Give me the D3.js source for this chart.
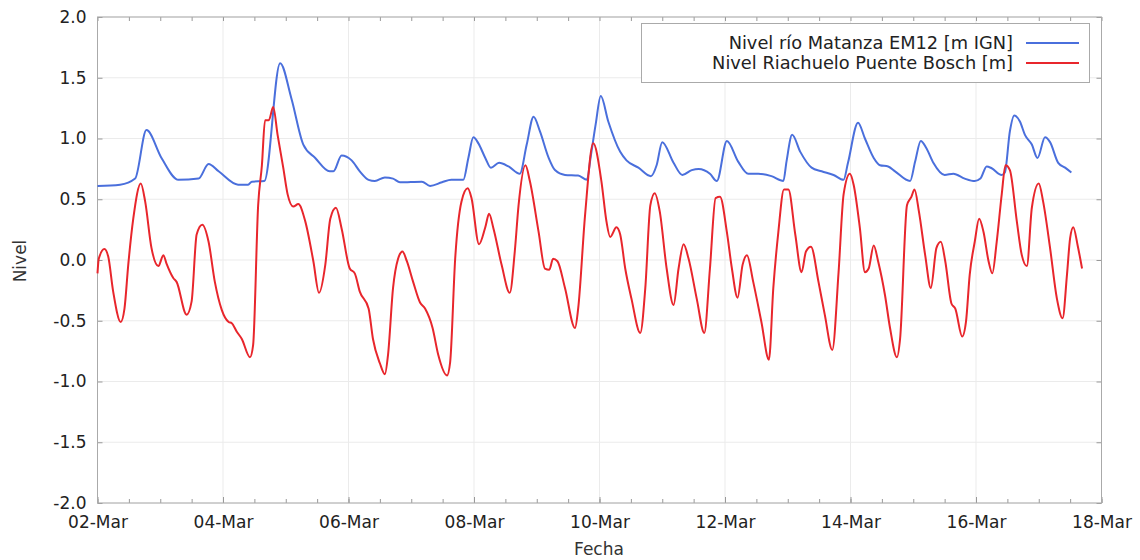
<!DOCTYPE html>
<html>
<head>
<meta charset="utf-8">
<script src="https://cdn.jsdelivr.net/npm/d3@7"></script>
<style>
  body { margin: 0; background: #fff; }
  svg { display: block; font-family: "DejaVu Sans", Verdana, sans-serif; }
</style>
</head>
<body>
<main></main>
<script>
// day offsets from 02-Mar 00:00 and levels
const matanzaDays = [0, 0.36, 0.6, 0.78, 1.02, 1.29, 1.61, 1.77, 1.93, 2.24, 2.4, 2.46, 2.66, 2.91, 3.09, 3.28, 3.47, 3.7, 3.76, 3.89,
  4.05, 4.18, 4.32, 4.42, 4.58, 4.71, 4.82, 5.17, 5.3, 5.49, 5.64, 5.83, 5.91, 5.99, 6.07, 6.18, 6.27, 6.4, 6.55, 6.73,
  6.84, 6.95, 7.05, 7.19, 7.29, 7.45, 7.66, 7.8, 7.86, 7.94, 8.02, 8.14, 8.33, 8.43, 8.62, 8.82, 8.91, 9.0, 9.18, 9.32,
  9.47, 9.58, 9.76, 9.87, 10.03, 10.21, 10.37, 10.53, 10.74, 10.93, 10.98, 11.07, 11.2, 11.38, 11.54, 11.73, 11.89, 11.96, 12.12, 12.23,
  12.37, 12.47, 12.6, 12.71, 12.95, 13.03, 13.12, 13.21, 13.32, 13.5, 13.64, 13.82, 13.98, 14.07, 14.17, 14.25, 14.41, 14.46, 14.54, 14.61,
  14.7, 14.78, 14.89, 14.98, 15.1, 15.18, 15.31, 15.42, 15.52];
const matanzaLevel = [0.61, 0.62, 0.67, 1.07, 0.84, 0.66, 0.67, 0.79, 0.73, 0.62, 0.62, 0.645, 0.65, 1.62, 1.33, 0.95, 0.84, 0.73, 0.73, 0.86,
  0.82, 0.73, 0.66, 0.65, 0.68, 0.67, 0.64, 0.645, 0.61, 0.64, 0.66, 0.66, 0.84, 1.01, 0.96, 0.84, 0.76, 0.8, 0.77, 0.71,
  0.95, 1.18, 1.06, 0.84, 0.74, 0.7, 0.695, 0.66, 0.85, 1.12, 1.35, 1.14, 0.89, 0.82, 0.76, 0.69, 0.78, 0.97, 0.8, 0.7,
  0.74, 0.75, 0.71, 0.65, 0.98, 0.81, 0.71, 0.71, 0.69, 0.65, 0.81, 1.03, 0.89, 0.76, 0.73, 0.7, 0.66, 0.8, 1.13, 1.0,
  0.84, 0.78, 0.77, 0.73, 0.65, 0.81, 0.98, 0.92, 0.8, 0.7, 0.71, 0.67, 0.65, 0.67, 0.77, 0.755, 0.7, 0.72, 1.06, 1.19,
  1.14, 1.03, 0.95, 0.84, 1.01, 0.97, 0.8, 0.76, 0.72];

const riachueloDays = [0, 0.02, 0.11, 0.17, 0.25, 0.37, 0.43, 0.49, 0.57, 0.69, 0.76, 0.86, 0.97, 1.05, 1.1, 1.21, 1.26, 1.42, 1.5, 1.58,
  1.67, 1.77, 1.87, 1.98, 2.09, 2.14, 2.22, 2.3, 2.43, 2.48, 2.56, 2.62, 2.67, 2.73, 2.8, 2.87, 2.96, 3.03, 3.12, 3.2,
  3.31, 3.44, 3.53, 3.63, 3.71, 3.8, 3.89, 4.02, 4.1, 4.18, 4.32, 4.39, 4.5, 4.58, 4.63, 4.71, 4.79, 4.86, 4.93, 5.03,
  5.14, 5.22, 5.34, 5.43, 5.57, 5.62, 5.7, 5.8, 5.9, 5.96, 6.08, 6.18, 6.24, 6.31, 6.44, 6.57, 6.65, 6.71, 6.82, 6.89,
  7.03, 7.13, 7.2, 7.26, 7.33, 7.45, 7.61, 7.66, 7.77, 7.9, 8.03, 8.11, 8.17, 8.27, 8.33, 8.41, 8.51, 8.65, 8.73, 8.81,
  8.88, 8.96, 9.07, 9.18, 9.26, 9.34, 9.42, 9.55, 9.67, 9.76, 9.85, 9.92, 10.03, 10.11, 10.2, 10.28, 10.35, 10.45, 10.58, 10.7,
  10.77, 10.85, 10.94, 11.01, 11.12, 11.22, 11.29, 11.37, 11.49, 11.59, 11.71, 11.81, 11.89, 11.99, 12.05, 12.15, 12.23, 12.29, 12.37, 12.44,
  12.55, 12.63, 12.74, 12.79, 12.9, 12.97, 13.02, 13.09, 13.19, 13.28, 13.37, 13.44, 13.51, 13.61, 13.67, 13.78, 13.84, 13.9, 13.98, 14.05,
  14.12, 14.2, 14.26, 14.33, 14.41, 14.47, 14.54, 14.65, 14.73, 14.81, 14.89, 15.0, 15.07, 15.18, 15.29, 15.38, 15.45, 15.5, 15.55, 15.62,
  15.69];
const riachueloLevel = [-0.11, 0.01, 0.09, 0.03, -0.26, -0.51, -0.4, -0.04, 0.34, 0.63, 0.48, 0.1, -0.05, 0.04, -0.03, -0.15, -0.18, -0.45, -0.34, 0.21,
  0.29, 0.15, -0.18, -0.41, -0.51, -0.52, -0.59, -0.65, -0.8, -0.7, 0.45, 0.78, 1.15, 1.15, 1.26, 1.03, 0.76, 0.54, 0.44, 0.46,
  0.32, -0.01, -0.27, -0.04, 0.34, 0.43, 0.26, -0.07, -0.11, -0.26, -0.4, -0.65, -0.85, -0.94, -0.78, -0.23, 0.01, 0.07, -0.01, -0.18,
  -0.35, -0.4, -0.56, -0.78, -0.95, -0.84, 0.01, 0.48, 0.59, 0.51, 0.13, 0.27, 0.38, 0.26, -0.04, -0.27, 0.07, 0.45, 0.78, 0.65,
  0.23, -0.07, -0.08, 0.01, -0.01, -0.23, -0.56, -0.4, 0.37, 0.96, 0.65, 0.32, 0.19, 0.27, 0.21, -0.07, -0.32, -0.6, -0.23, 0.45,
  0.55, 0.4, -0.07, -0.37, -0.07, 0.13, 0.01, -0.32, -0.6, -0.07, 0.51, 0.52, 0.23, -0.07, -0.31, -0.04, 0.04, -0.18, -0.51, -0.82,
  -0.23, 0.23, 0.58, 0.58, 0.21, -0.1, 0.07, 0.11, -0.18, -0.45, -0.74, -0.1, 0.54, 0.71, 0.62, 0.26, -0.1, -0.07, 0.12, -0.01,
  -0.29, -0.56, -0.8, -0.65, 0.45, 0.52, 0.58, 0.4, 0.04, -0.23, 0.1, 0.15, -0.01, -0.36, -0.4, -0.63, -0.51, -0.12, 0.15, 0.34,
  0.23, -0.01, -0.11, 0.15, 0.54, 0.78, 0.74, 0.32, 0.04, -0.05, 0.43, 0.63, 0.48, 0.1, -0.32, -0.48, -0.12, 0.18, 0.27, 0.12,
  -0.07];

const seriesNames = ["Nivel río Matanza EM12 [m IGN]", "Nivel Riachuelo Puente Bosch [m]"];
const seriesColors = ["#4a6fdc", "#e8262c"];
const yTicks = [-2.0, -1.5, -1.0, -0.5, 0.0, 0.5, 1.0, 1.5, 2.0];
const xTickDays = [0, 2, 4, 6, 8, 10, 12, 14, 16];

const start = new Date(Date.UTC(2023, 2, 2));
const end = new Date(Date.UTC(2023, 2, 18));
const toDate = (d) => new Date(start.getTime() + d * 864e5);

draw(document.querySelector("main"));

function draw(el) {
  const margin = { top: 17, right: 38.5, bottom: 57, left: 97.5 },
    width = 1140 - margin.left - margin.right,
    height = 560 - margin.top - margin.bottom;

  const svg = d3.select(el)
    .append("svg")
    .attr("width", 1140)
    .attr("height", 560);

  const g = svg.append("g")
    .attr("transform", `translate(${margin.left},${margin.top})`);

  const x = d3.scaleUtc().domain([start, end]).range([0, width]);
  const y = d3.scaleLinear().domain([-2, 2]).range([height, 0]);

  const majorX = xTickDays.map(toDate);
  const minorX = d3.utcHour.every(12).range(start, d3.utcHour.offset(end, 1));

  // grid
  g.append("g")
    .selectAll("line")
    .data(yTicks)
    .join("line")
    .attr("x1", 0).attr("x2", width)
    .attr("y1", (d) => y(d)).attr("y2", (d) => y(d))
    .attr("stroke", "#ebebeb");
  g.append("g")
    .selectAll("line")
    .data(majorX)
    .join("line")
    .attr("x1", (d) => x(d)).attr("x2", (d) => x(d))
    .attr("y1", 0).attr("y2", height)
    .attr("stroke", "#ebebeb");

  // minor ticks, bottom and top, pointing inward
  g.append("g")
    .attr("transform", `translate(0,${height})`)
    .call(d3.axisBottom(x).tickValues(minorX).tickSize(-4).tickFormat(""))
    .call((a) => a.select(".domain").remove());
  g.append("g")
    .call(d3.axisTop(x).tickValues(minorX).tickSize(-4).tickFormat(""))
    .call((a) => a.select(".domain").remove());

  // bottom axis
  g.append("g")
    .attr("transform", `translate(0,${height})`)
    .call(d3.axisBottom(x).tickValues(majorX).tickSize(-6).tickPadding(13)
      .tickFormat(d3.utcFormat("%d-%b")))
    .call((a) => a.select(".domain").remove());

  // left axis
  g.append("g")
    .call(d3.axisLeft(y).tickValues(yTicks).tickSize(-5).tickPadding(11)
      .tickFormat((d) => d.toFixed(1)))
    .call((a) => a.select(".domain").remove());

  // right axis ticks
  g.append("g")
    .attr("transform", `translate(${width},0)`)
    .call(d3.axisRight(y).tickValues(yTicks).tickSize(-5).tickFormat(""))
    .call((a) => a.select(".domain").remove());

  g.selectAll(".tick line").attr("stroke", "#999");
  g.selectAll(".tick text")
    .attr("font-family", "DejaVu Sans")
    .attr("font-size", 17)
    .attr("fill", "#222");

  // frame
  g.append("rect")
    .attr("width", width)
    .attr("height", height)
    .attr("fill", "none")
    .attr("stroke", "#aaa");

  // lines
  const line = d3.line()
    .x((d) => x(toDate(d[0])))
    .y((d) => y(d[1]))
    .curve(d3.curveMonotoneX);

  const matanza = matanzaDays.map((d, i) => [d, matanzaLevel[i]]);
  const riachuelo = riachueloDays.map((d, i) => [d, riachueloLevel[i]]);

  [matanza, riachuelo].forEach((data, i) => {
    g.append("path")
      .datum(data)
      .attr("fill", "none")
      .attr("stroke", seriesColors[i])
      .attr("stroke-width", 2)
      .attr("stroke-linejoin", "round")
      .attr("d", line);
  });

  // legend
  const legend = svg.append("g");
  legend.append("rect")
    .attr("x", 641.5).attr("y", 23.5)
    .attr("width", 448).attr("height", 59)
    .attr("fill", "#fff")
    .attr("stroke", "#aaa");
  seriesNames.forEach((name, i) => {
    const ly = 43 + i * 20;
    legend.append("text")
      .attr("x", 1013).attr("y", ly)
      .attr("dy", "0.36em")
      .attr("text-anchor", "end")
      .attr("font-size", 17.8)
      .attr("fill", "#222")
      .text(name);
    legend.append("line")
      .attr("x1", 1026).attr("x2", 1079)
      .attr("y1", ly).attr("y2", ly)
      .attr("stroke", seriesColors[i])
      .attr("stroke-width", 2);
  });

  // axis titles
  svg.append("text")
    .attr("x", 599).attr("y", 549)
    .attr("dy", "0.36em")
    .attr("text-anchor", "middle")
    .attr("font-size", 17)
    .attr("fill", "#333")
    .text("Fecha");
  svg.append("text")
    .attr("transform", "translate(20,261) rotate(-90)")
    .attr("dy", "0.36em")
    .attr("text-anchor", "middle")
    .attr("font-size", 17)
    .attr("fill", "#333")
    .text("Nivel");
}
</script>
</body>
</html>
